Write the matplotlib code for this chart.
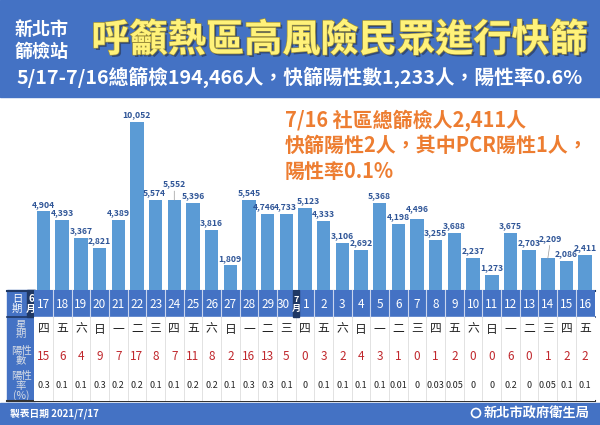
import matplotlib
matplotlib.use("Agg")
import matplotlib.pyplot as plt
import matplotlib.patheffects as pe
from matplotlib.patches import Rectangle, Circle

plt.rcParams['font.family'] = ['Noto Sans CJK TC', 'DejaVu Sans']

# 資料
fechas = ['17', '18', '19', '20', '21', '22', '23', '24', '25', '26', '27', '28', '29', '30',
          '1', '2', '3', '4', '5', '6', '7', '8', '9', '10', '11', '12', '13', '14', '15', '16']
tamizados = [4904, 4393, 3367, 2821, 4389, 10052, 5574, 5552, 5396, 3816, 1809, 5545, 4746, 4733,
             5123, 4333, 3106, 2692, 5368, 4198, 4496, 3255, 3688, 2237, 1273, 3675, 2703, 2209, 2086, 2411]
semana = ['四', '五', '六', '日', '一', '二', '三', '四', '五', '六', '日', '一', '二', '三',
          '四', '五', '六', '日', '一', '二', '三', '四', '五', '六', '日', '一', '二', '三', '四', '五']
positivos = [15, 6, 4, 9, 7, 17, 8, 7, 11, 8, 2, 16, 13, 5,
             0, 3, 2, 4, 3, 1, 0, 1, 2, 0, 0, 6, 0, 1, 2, 2]
tasa = ['0.3', '0.1', '0.1', '0.3', '0.2', '0.2', '0.1', '0.1', '0.2', '0.2', '0.1', '0.3', '0.3', '0.1',
        '0', '0.1', '0.1', '0.1', '0.1', '0.01', '0', '0.03', '0.05', '0', '0', '0.2', '0', '0.05', '0.1', '0.1']

# ajustes de etiquetas (indice: (dx, dy) en pixeles) para que no se pisen
mover = {6: (-1, 0), 7: (0, 9), 12: (-3, 0), 13: (-1, 0), 14: (3, 0), 20: (0, 3), 27: (3, 13)}

azul = '#4472C4'
azul_barra = '#5B9BD5'
azul_oscuro = '#1F3864'
naranja = '#ED7D31'

W, H = 600, 425
fig = plt.figure(figsize=(6, 4.25), dpi=100)

# fondo en pixeles
bg = fig.add_axes([0, 0, 1, 1], zorder=0)
bg.set_xlim(0, W)
bg.set_ylim(H, 0)
bg.axis('off')

# cabecera
bg.add_patch(Rectangle((0, 0), W, 97, color=azul))
bg.text(42, 29, '新北市', color='white', fontsize=13, fontweight='bold', ha='center', va='center')
bg.text(42, 51, '篩檢站', color='white', fontsize=13, fontweight='bold', ha='center', va='center')
bg.text(340, 40, '呼籲熱區高風險民眾進行快篩', color='#FFF27A', fontsize=27.5, fontweight='bold',
        ha='center', va='center',
        path_effects=[pe.withSimplePatchShadow(offset=(1.5, -1.5), shadow_rgbFace='#2a3a5a', alpha=0.7),
                      pe.withStroke(linewidth=1, foreground='#9c8f3c')])
bg.text(300, 77, '5/17-7/16總篩檢194,466人，快篩陽性數1,233人，陽性率0.6%', color='white',
        fontsize=14.2, fontweight='bold', ha='center', va='center')

# texto naranja
for k, linea in enumerate(['7/16 社區總篩檢人2,411人', '快篩陽性2人，其中PCR陽性1人，', '陽性率0.1%']):
    bg.text(285, 120 + 25.5 * k, linea, color=naranja, fontsize=14.4, fontweight='bold', va='center')

# columna de titulos de la tabla
bg.add_patch(Rectangle((7, 290), 28, 111, color=azul))
bg.add_patch(Rectangle((27, 290), 8, 27, color=azul_oscuro))
bg.text(17, 304, '日\n期', color='white', fontsize=7.5, ha='center', va='center', linespacing=0.95)
bg.text(31, 304, '6\n月', color='white', fontsize=7, fontweight='bold', ha='center', va='center', linespacing=0.9)
bg.text(21, 329, '星\n期', color='#D6DCE5', fontsize=7.5, ha='center', va='center', linespacing=0.95)
bg.text(21, 356, '陽性\n數', color='#D6DCE5', fontsize=7.5, ha='center', va='center', linespacing=0.95)
bg.text(21, 386, '陽性\n率\n(%)', color='#D6DCE5', fontsize=7.5, ha='center', va='center', linespacing=0.9)

# pie de pagina
bg.add_patch(Rectangle((0, 403), W, 22, color=azul))
bg.text(10, 414, '製表日期 2021/7/17', color='white', fontsize=7, fontweight='bold', va='center')
bg.text(590, 414, '新北市政府衛生局', color='white', fontsize=9.5, fontweight='bold', ha='right', va='center')
bg.add_patch(Circle((476, 413), 4.5, fill=False, ec='white', lw=1.2))

# grafico de barras
x0, x1 = 34.2, 594.5
ax = fig.add_axes([x0 / W, (H - 290) / H, (x1 - x0) / W, 185 / H], zorder=1)
ax.patch.set_alpha(0)
pos = list(range(len(tamizados)))
ax.bar(pos, tamizados, width=0.72, color=azul_barra)
for i, v in enumerate(tamizados):
    dx, dy = mover.get(i, (0, 0))
    ax.annotate(f'{v:,}', (i, v), xytext=(dx * 0.72, 2 + dy * 0.72), textcoords='offset points',
                ha='center', va='bottom', fontsize=6.2, fontweight='bold', color='#2F5597',
                arrowprops=dict(arrowstyle='-', color='#999999', lw=0.5,
                                shrinkA=0, shrinkB=0) if dy > 5 else None)
ax.set_xlim(-0.5, len(tamizados) - 0.5)
ax.set_ylim(400, 11000)
ax.axis('off')

# tabla
tb = fig.add_axes([x0 / W, (H - 401) / H, (x1 - x0) / W, 111 / H], zorder=2)
tb.set_xlim(-0.5, len(tamizados) - 0.5)
tb.set_ylim(401, 290)
tb.axis('off')
tb.add_patch(Rectangle((-0.5, 290), len(tamizados), 27, color=azul))
tb.add_patch(Rectangle((-0.5, 317), len(tamizados), 84, color='white'))
for i in range(len(tamizados) - 1):
    tb.plot([i + 0.5, i + 0.5], [290, 317], color='#C9D5EE', lw=0.8)
    tb.plot([i + 0.5, i + 0.5], [317, 401], color='#DDDDDD', lw=0.6)
tb.add_patch(Rectangle((13.34, 290), 0.34, 27, color=azul_oscuro, zorder=3))
tb.text(13.51, 304, '7\n月', color='white', fontsize=6.5, fontweight='bold', ha='center', va='center',
        linespacing=0.9, zorder=4)
for i in range(len(tamizados)):
    xi = i - 0.15 if i == 13 else (i + 0.08 if i == 14 else i)
    tb.text(xi, 304, fechas[i], color='white', fontsize=8.5, ha='center', va='center')
    tb.text(i, 329, semana[i], color='#222222', fontsize=8.5, ha='center', va='center')
    tb.text(i, 356, str(positivos[i]), color='#C0282D', fontsize=8.5, ha='center', va='center')
    tb.text(i, 385, tasa[i], color='#222222', fontsize=6.5, ha='center', va='center')
bg.plot([7, x1], [290.5, 290.5], color=azul_oscuro, lw=1.5, zorder=5)
bg.plot([7, x1], [317, 317], color=azul_oscuro, lw=1.2, zorder=5)
bg.plot([7, x1], [401, 401], color='#333333', lw=1.5, zorder=5)

fig.savefig('out.png', dpi=100)
